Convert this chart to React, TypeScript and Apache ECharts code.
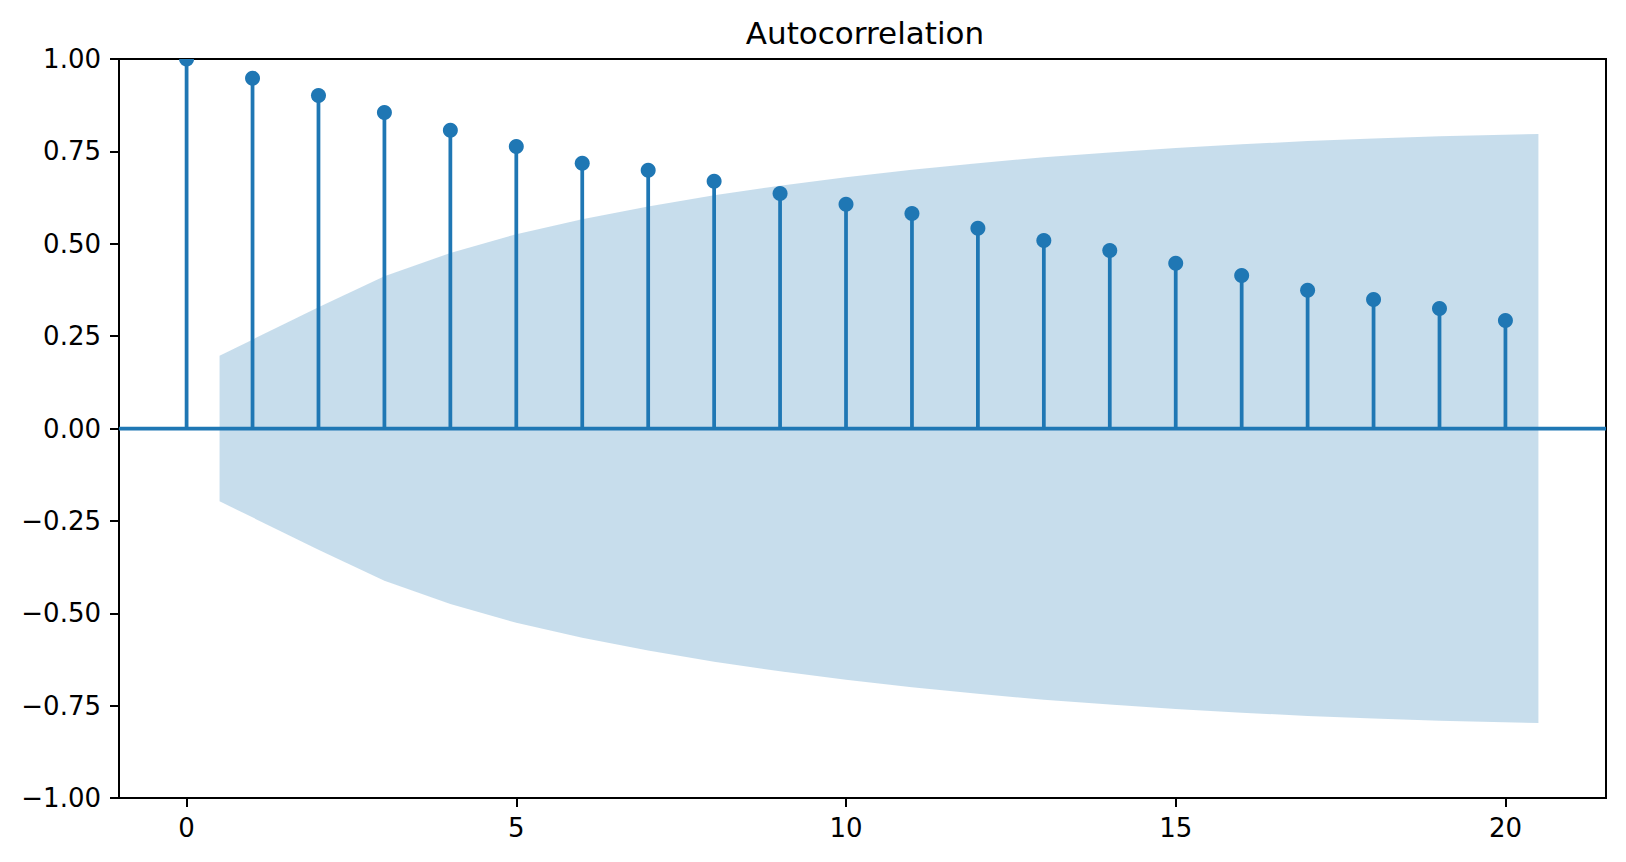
import React, { useEffect, useRef } from "react";
import * as echarts from "echarts";

// ---- data ----
const lags = [0, 1, 2, 3, 4, 5, 6, 7, 8, 9, 10, 11, 12, 13, 14, 15, 16, 17, 18, 19, 20];
const acfValues = [
  1.0, 0.948, 0.901, 0.855, 0.807, 0.763, 0.718, 0.699, 0.669, 0.636, 0.607,
  0.582, 0.542, 0.509, 0.482, 0.447, 0.414, 0.374, 0.349, 0.325, 0.292,
];
const bandLags = [0.5, 2, 3, 4, 5, 6, 7, 8, 9, 10, 11, 12, 13, 14, 15, 16, 17, 18, 19, 20.5];
const bandUpper = [
  0.197, 0.328, 0.412, 0.475, 0.526, 0.566, 0.601, 0.631, 0.657, 0.68,
  0.7, 0.718, 0.734, 0.747, 0.759, 0.769, 0.778, 0.785, 0.791, 0.797,
];
const bandLower = [
  -0.197, -0.328, -0.412, -0.475, -0.526, -0.566, -0.601, -0.631, -0.657, -0.68,
  -0.7, -0.718, -0.734, -0.747, -0.759, -0.769, -0.778, -0.785, -0.791, -0.797,
];
const xTickValues = [0, 5, 10, 15, 20];
const xRange = [-1.025, 21.525];
const yRange = [-1, 1];
const yStep = 0.25;
const titleText = "Autocorrelation";

const BLUE = "#1f77b4";
const FONT = "DejaVu Sans";

export default function App() {
  const ref = useRef<HTMLDivElement>(null);

  useEffect(() => {
    if (!ref.current) return;
    const chart = echarts.init(ref.current, undefined, { renderer: "svg" });

    const option: any = {
      animation: false,
      backgroundColor: "#ffffff",
      title: {
        text: titleText,
        left: 860,
        top: 12,
        textAlign: "center",
        textStyle: { fontFamily: FONT, fontSize: 31, fontWeight: "normal", color: "#000" },
      },
      grid: {
        left: 119,
        top: 59,
        width: 1487,
        height: 739,
        show: true,
        borderColor: "#000",
        borderWidth: 2,
        backgroundColor: "transparent",
        containLabel: false,
      },
      xAxis: {
        type: "value",
        min: xRange[0],
        max: xRange[1],
        axisLine: { show: false, onZero: false },
        splitLine: { show: false },
        axisTick: {
          show: true,
          length: 9,
          lineStyle: { color: "#000", width: 2 },
          customValues: xTickValues,
        },
        axisLabel: {
          customValues: xTickValues,
          margin: 17,
          fontFamily: FONT,
          fontSize: 26,
          color: "#000",
          formatter: (v: number) => String(v),
        },
      },
      yAxis: {
        type: "value",
        min: yRange[0],
        max: yRange[1],
        interval: yStep,
        axisLine: { show: false, onZero: false },
        splitLine: { show: false },
        axisTick: { show: true, length: 9, lineStyle: { color: "#000", width: 2 } },
        axisLabel: {
          margin: 18,
          fontFamily: FONT,
          fontSize: 26,
          color: "#000",
          formatter: (v: number) => v.toFixed(2).replace("-", "\u2212"),
        },
      },
      series: [
        {
          type: "custom",
          name: "band",
          z: 1,
          silent: true,
          data: bandLags.map((x, i) => [x, bandLower[i], bandUpper[i]]),
          encode: { x: 0, y: [1, 2] },
          renderItem: (params: any, api: any) => {
            if (params.dataIndex !== 0) return null;
            const pts: number[][] = [];
            for (let i = 0; i < bandLags.length; i++) pts.push(api.coord([bandLags[i], bandUpper[i]]));
            for (let i = bandLags.length - 1; i >= 0; i--) pts.push(api.coord([bandLags[i], bandLower[i]]));
            return {
              type: "polygon",
              shape: { points: pts },
              style: { fill: BLUE, opacity: 0.25 },
            };
          },
        },
        {
          type: "custom",
          name: "acf",
          z: 2,
          clip: true,
          silent: true,
          data: lags.map((l, i) => [l, acfValues[i]]),
          encode: { x: 0, y: 1 },
          renderItem: (params: any, api: any) => {
            const x = api.value(0);
            const y = api.value(1);
            const p0 = api.coord([x, 0]);
            const p1 = api.coord([x, y]);
            return {
              type: "group",
              children: [
                {
                  type: "line",
                  shape: { x1: p0[0], y1: p0[1], x2: p1[0], y2: p1[1] },
                  style: { stroke: BLUE, lineWidth: 3.75 },
                },
                {
                  type: "circle",
                  shape: { cx: p1[0], cy: p1[1], r: 7.5 },
                  style: { fill: BLUE },
                },
              ],
            };
          },
        },
        {
          type: "line",
          name: "zero",
          z: 3,
          silent: true,
          symbol: "none",
          data: [
            [xRange[0], 0],
            [xRange[1], 0],
          ],
          lineStyle: { color: BLUE, width: 3.75 },
        },
      ],
    };

    chart.setOption(option);
    return () => chart.dispose();
  }, []);

  return (
    <div
      ref={ref}
      style={{ position: "absolute", left: 0, top: 0, width: 1626, height: 862 }}
    />
  );
}
